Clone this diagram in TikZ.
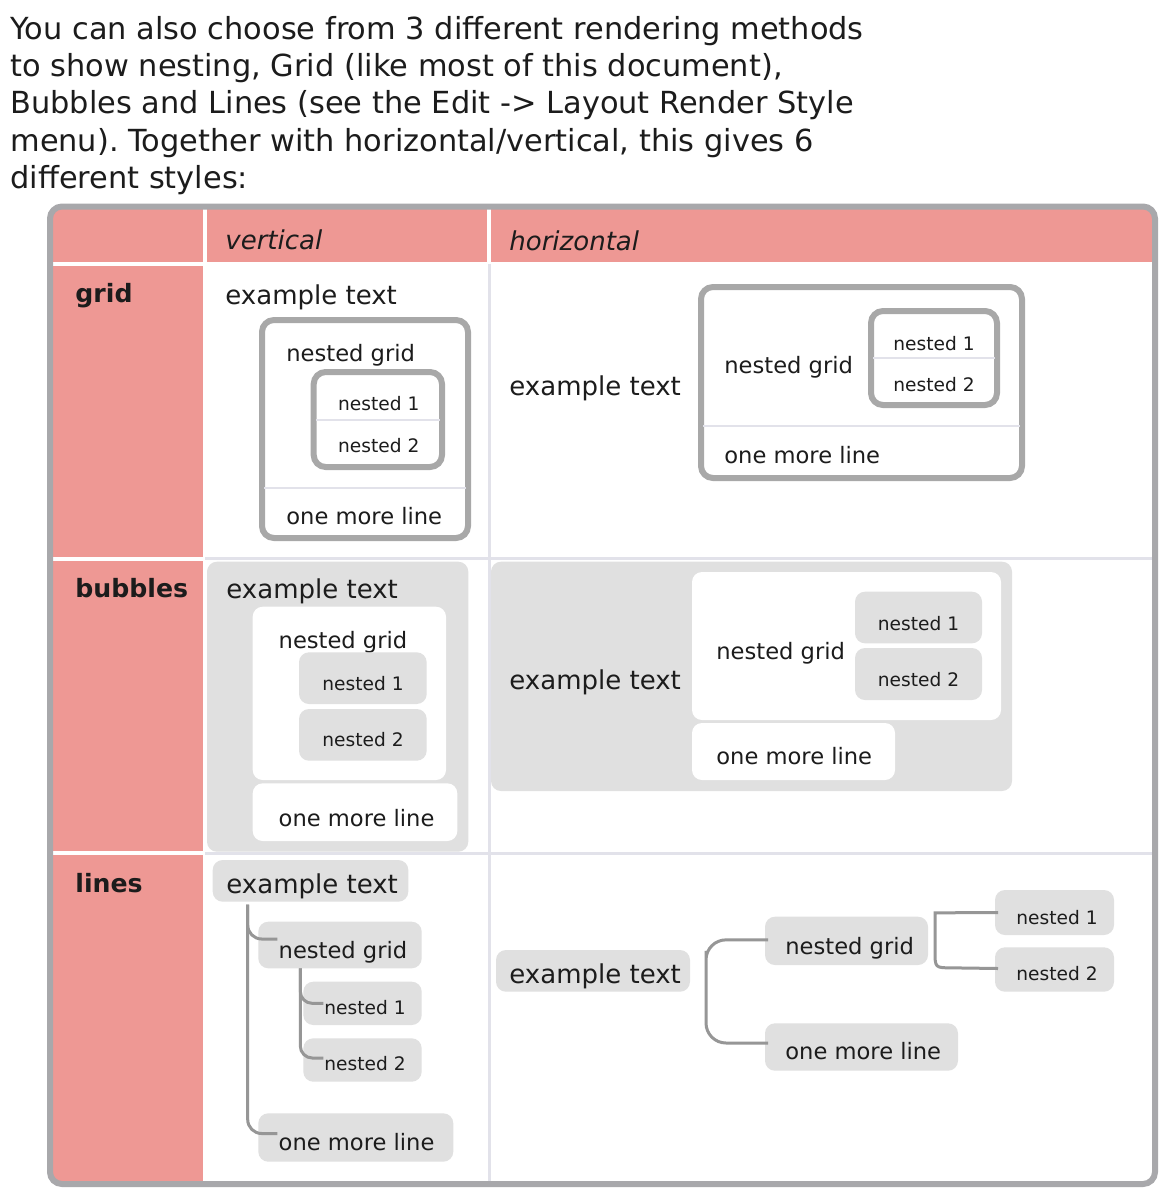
\documentclass[tikz,border=0pt]{standalone}
\usepackage{fontspec}
\setmainfont{DejaVu Sans}
\usetikzlibrary{calc}
\frenchspacing
\definecolor{pinkc}{RGB}{238,152,148}
\definecolor{framec}{RGB}{168,168,171}
\definecolor{sepc}{RGB}{226,226,234}
\definecolor{gboxc}{RGB}{168,168,168}
\definecolor{bubc}{RGB}{224,224,224}
\definecolor{linec}{RGB}{150,150,150}
\definecolor{txt}{RGB}{28,28,28}
\newcommand\bnode[6]{\node[#1, inner sep=0pt, outer sep=0pt, minimum width={(#5-#3)*0.5pt}, minimum height={(#6-#4)*0.5pt}] (#2) at ({(#3+#5)/2},{(#4+#6)/2}) {};}
\begin{document}
\begin{tikzpicture}[x=0.5pt,y=-0.5pt,
  every node/.append style={text=txt},
  ttop/.style={font=\fontsize{15.2}{19}\selectfont, inner sep=0pt, anchor=base west},
  tbig/.style={font=\fontsize{13}{16}\selectfont, inner sep=0pt, anchor=mid west, yshift=-1.6pt},
  thead/.style={font=\fontsize{13}{16}\selectfont\itshape, inner sep=0pt, anchor=mid west, yshift=-1.6pt},
  trow/.style={font=\fontsize{12.6}{16}\selectfont\bfseries, inner sep=0pt, anchor=mid west, yshift=-1.6pt},
  tmid/.style={font=\fontsize{11.3}{14}\selectfont, inner sep=0pt, anchor=mid west, yshift=-1.3pt},
  tsml/.style={font=\fontsize{9.3}{11}\selectfont, inner sep=0pt, anchor=mid, yshift=-1pt},
  tsmlw/.style={font=\fontsize{9.3}{11}\selectfont, inner sep=0pt, anchor=mid west, yshift=-1pt},
  gridbox/.style={draw=gboxc, line width=3pt, fill=white, rounded corners=6pt},
  sepline/.style={draw=sepc, line width=1pt},
  bubgray/.style={fill=bubc, rounded corners=5pt},
  bubwhite/.style={fill=white, rounded corners=5pt},
  conn/.style={draw=linec, line width=1.5pt}]
\useasboundingbox (0,0) rectangle (1172,1200);
\fill[white] (0,0) rectangle (1172,1200);
% intro text
\node[ttop] (intro1) at (10,39) {You can also choose from 3 different rendering methods};
\node[ttop] (intro2) at (10,76.5) {to show nesting, Grid (like most of this document),};
\node[ttop] (intro3) at (10,113.8) {Bubbles and Lines (see the Edit -> Layout Render Style};
\node[ttop] (intro4) at (10,151) {menu). Together with horizontal/vertical, this gives 6};
\node[ttop] (intro5) at (10,188.3) {different styles:};
% table background
\begin{scope}
\clip[rounded corners=6pt] (50,206.5) rectangle (1155,1184);
\fill[white] (50,206.5) rectangle (1155,1184);
\fill[pinkc] (50,206) rectangle (203,262);
\fill[pinkc] (207,206) rectangle (487,262);
\fill[pinkc] (491,206) rectangle (1155,262);
\fill[pinkc] (50,266) rectangle (203,556.5);
\fill[pinkc] (50,560.5) rectangle (203,851);
\fill[pinkc] (50,855) rectangle (203,1184);
\draw[sepc, line width=1.5pt] (489,264) -- (489,1184);
\draw[sepc, line width=1.5pt] (205,558.5) -- (1155,558.5);
\draw[sepc, line width=1.5pt] (205,853) -- (1155,853);
\end{scope}
\draw[framec, line width=3pt, rounded corners=6pt] (50,206.5) rectangle (1155,1184);
% headers
\node[thead] (hvert) at (225,241) {vertical};
\node[thead] (hhoriz) at (509,242) {horizontal};
\node[trow] (rgrid) at (75,294) {grid};
\node[trow] (rbub) at (75,589) {bubbles};
\node[trow] (rlines) at (75,884) {lines};
% ---------- grid vertical
\node[tbig] (gvex) at (225,296) {example text};
\bnode{gridbox}{gvout}{262}{320}{468}{538}
\draw[sepline] ($(gvout.south west)+(2,-50)$) -- ($(gvout.south east)+(-2,-50)$);
\node[tmid] (gvng) at (286,353) {nested grid};
\bnode{gridbox}{gvin}{313.7}{372}{442}{467}
\draw[sepline] ($(gvin.west)+(2,0)$) -- ($(gvin.east)+(-2,0)$);
\node[tsml] (gvn1) at (378.8,403) {nested 1};
\node[tsml] (gvn2) at (378.8,445) {nested 2};
\node[tmid] (gvom) at (286,516) {one more line};
% ---------- grid horizontal
\node[tbig] (ghex) at (509,387) {example text};
\bnode{gridbox}{ghout}{701}{287}{1022}{478}
\draw[sepline] ($(ghout.south west)+(2,-52)$) -- ($(ghout.south east)+(-2,-52)$);
\node[tmid] (ghng) at (724,365) {nested grid};
\bnode{gridbox}{ghin}{871}{311}{997}{405}
\draw[sepline] ($(ghin.west)+(2,0)$) -- ($(ghin.east)+(-2,0)$);
\node[tsml] (ghn1) at (934,343) {nested 1};
\node[tsml] (ghn2) at (934,384) {nested 2};
\node[tmid] (ghom) at (724,455) {one more line};
% ---------- bubbles vertical
\bnode{bubgray}{bvbg}{207}{561.7}{468.3}{851.7}
\node[tbig] (bvex) at (226,590) {example text};
\bnode{bubwhite}{bvw}{252.7}{606.7}{446}{780}
\node[tmid] (bvng) at (278.3,640) {nested grid};
\bnode{bubgray}{bvb1}{299}{652.3}{426.7}{704}
\node[tsml] (bvn1) at (363,682.7) {nested 1};
\bnode{bubgray}{bvb2}{299}{709}{426.7}{760.7}
\node[tsml] (bvn2) at (363,739.3) {nested 2};
\bnode{bubwhite}{bvwom}{252.7}{783.3}{457.3}{841}
\node[tmid] (bvom) at (278.3,818.3) {one more line};
% ---------- bubbles horizontal
\bnode{bubgray}{bhbg}{491}{561.7}{1012}{791}
\node[tbig] (bhex) at (509,681) {example text};
\bnode{bubwhite}{bhw}{692}{572}{1001}{720}
\node[tmid] (bhng) at (716,651.7) {nested grid};
\bnode{bubgray}{bhb1}{855}{591.7}{982}{643.3}
\node[tsml] (bhn1) at (918.5,623) {nested 1};
\bnode{bubgray}{bhb2}{855}{648}{982}{700}
\node[tsml] (bhn2) at (918.5,679) {nested 2};
\bnode{bubwhite}{bhwom}{692}{723}{895}{780}
\node[tmid] (bhom) at (716,756.7) {one more line};
% ---------- lines vertical
\bnode{bubgray}{lvexb}{212.7}{860}{408.3}{901.7}
\node[tbig] (lvex) at (226,885) {example text};
\bnode{bubgray}{lvngb}{258.3}{921.7}{421.7}{968.3}
\node[tmid] (lvng) at (278.3,950) {nested grid};
\bnode{bubgray}{lvb1}{303.3}{981.7}{421.7}{1025}
\node[tsmlw] (lvn1) at (324,1006.7) {nested 1};
\bnode{bubgray}{lvb2}{303.3}{1038.3}{421.7}{1081.7}
\node[tsmlw] (lvn2) at (324,1063.3) {nested 2};
\bnode{bubgray}{lvomb}{258.3}{1113.3}{453.3}{1161.7}
\node[tmid] (lvom) at (278.3,1142.7) {one more line};
\draw[conn, rounded corners=7pt] ($(lvexb.south west)+(35,3)$) |- ($(lvngb.west)+(19,-6)$);
\draw[conn, rounded corners=7pt] ($(lvexb.south west)+(35,3)$) |- ($(lvomb.west)+(19,-4)$);
\draw[conn, rounded corners=6pt] ($(lvngb.south west)+(42,0)$) |- ($(lvb1.west)+(20,0)$);
\draw[conn, rounded corners=6pt] ($(lvngb.south west)+(42,0)$) |- ($(lvb2.west)+(20,-2)$);
% ---------- lines horizontal
\bnode{bubgray}{lhexb}{496}{950}{690}{991.7}
\node[tbig] (lhex) at (509,975) {example text};
\bnode{bubgray}{lhngb}{765}{916.7}{928}{965}
\node[tmid] (lhng) at (785,946.7) {nested grid};
\bnode{bubgray}{lhomb}{765}{1023.3}{958}{1070.7}
\node[tmid] (lhom) at (785,1051.7) {one more line};
\bnode{bubgray}{lhb1}{995}{890}{1114}{935}
\node[tsmlw] (lhn1) at (1016,916.7) {nested 1};
\bnode{bubgray}{lhb2}{995}{947.3}{1114}{991.7}
\node[tsmlw] (lhn2) at (1016,973.3) {nested 2};
\draw[conn, rounded corners=10pt] ($(lhngb.west)+(3,-1)$) -| ($(lhexb.east)+(16,0)$) |- ($(lhomb.west)+(3,-4)$);
\draw[conn] ($(lhb2.west)+(3,-1)$) -- ($(lhngb.east)+(24,27)$) .. controls ($(lhngb.east)+(7,27)$) .. ($(lhngb.east)+(7,10)$) -- ($(lhngb.east)+(7,-28)$) -- ($(lhb1.west)+(3,0)$);
\end{tikzpicture}
\end{document}
